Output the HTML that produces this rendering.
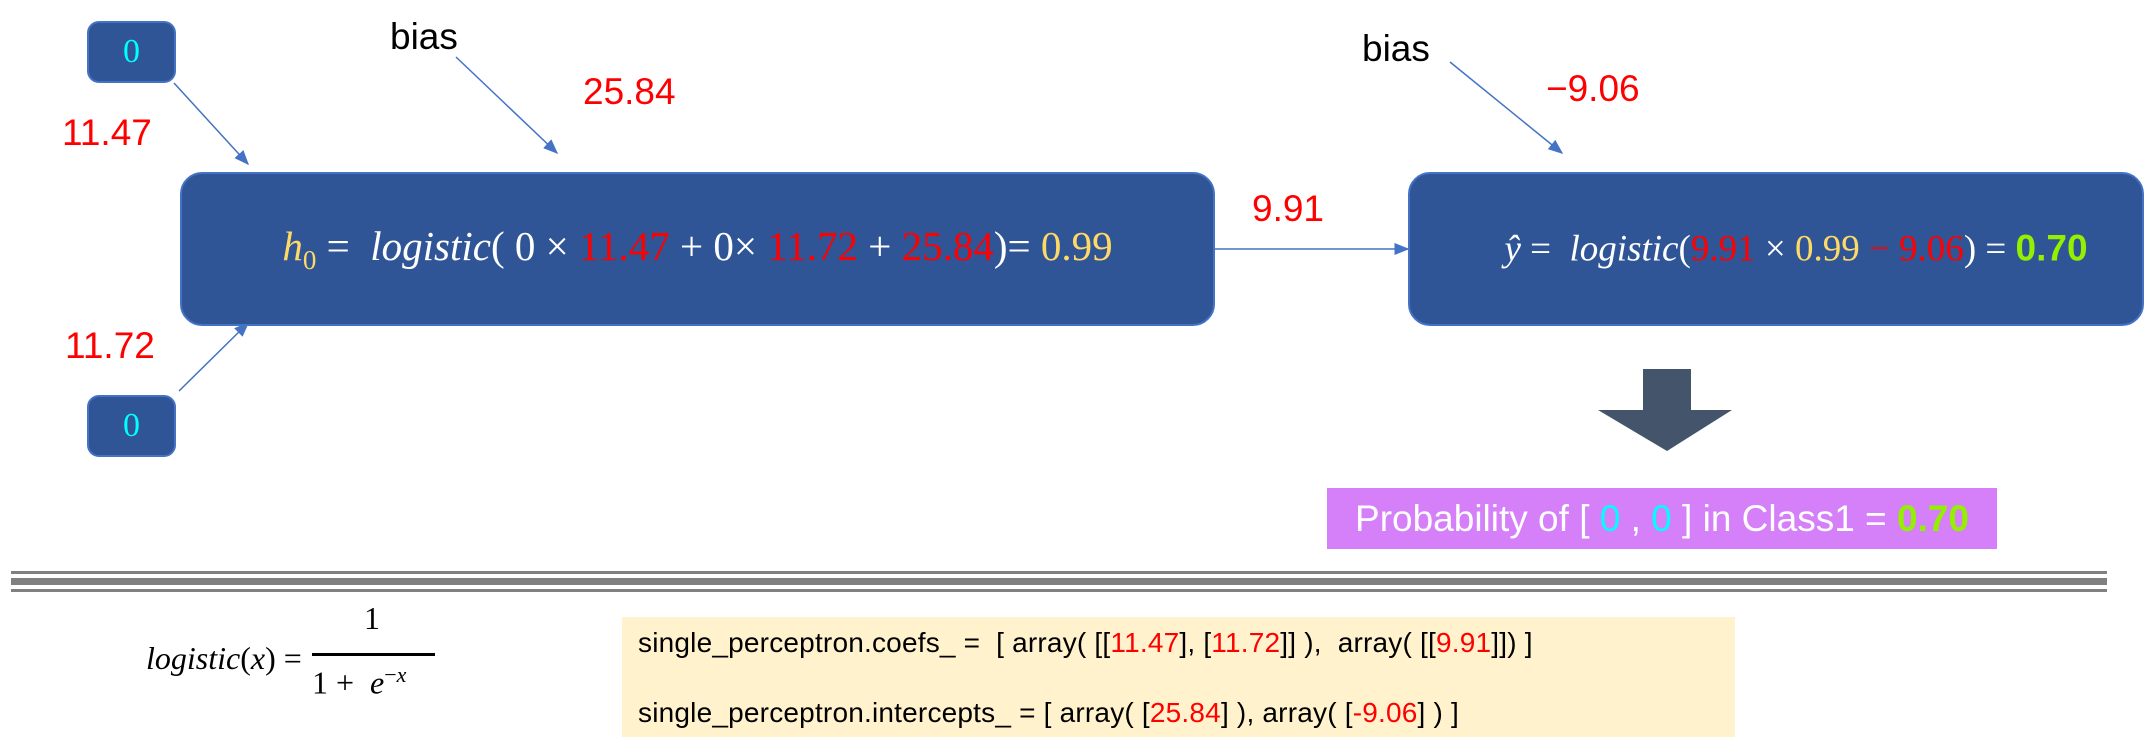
<!DOCTYPE html>
<html><head><meta charset="utf-8">
<style>
body{margin:0;width:2145px;height:745px;background:#fff;position:relative;overflow:hidden;font-family:"Liberation Sans",sans-serif}
.abs{position:absolute}
.node{position:absolute;background:#2f5597;border:2px solid #4472c4;box-sizing:border-box;border-radius:12px;color:#fff}
.in{width:89px;height:62px;display:flex;align-items:center;justify-content:center;color:#00ffff;font-family:"Liberation Serif",serif;font-size:34px}
.red{color:#ff0000}.yel{color:#ffd966}.grn{color:#92f000;font-weight:bold}.cy{color:#00ffff}
.lbl{position:absolute;font-size:37px;line-height:37px;white-space:nowrap}
.math{font-family:"Liberation Serif",serif;font-size:41px;white-space:nowrap;position:absolute;left:0;right:0;text-align:center;top:50%;transform:translateY(-50%)}
.code{font-size:28px;position:absolute;left:16px;white-space:nowrap;letter-spacing:0.2px}
</style></head><body>
<svg class="abs" style="left:0;top:0" width="2145" height="745">
<defs><marker id="ah" markerWidth="10" markerHeight="8" refX="9" refY="4" orient="auto"><path d="M0,0L10,4L0,8z" fill="#4472c4"/></marker></defs>
<line x1="174" y1="83" x2="248" y2="164" stroke="#4472c4" stroke-width="1.5" marker-end="url(#ah)"/>
<line x1="179" y1="391" x2="248" y2="323" stroke="#4472c4" stroke-width="1.5" marker-end="url(#ah)"/>
<line x1="456" y1="57" x2="557" y2="153" stroke="#4472c4" stroke-width="1.5" marker-end="url(#ah)"/>
<line x1="1215" y1="249" x2="1408" y2="249" stroke="#4472c4" stroke-width="1.5" marker-end="url(#ah)"/>
<line x1="1450" y1="62" x2="1562" y2="153" stroke="#4472c4" stroke-width="1.5" marker-end="url(#ah)"/>
<path d="M1643,369H1691V410H1732L1667,451L1598,410H1643Z" fill="#44546a"/>
<rect x="11" y="571" width="2096" height="3" fill="#808080"/>
<rect x="11" y="578" width="2096" height="7" fill="#808080"/>
<rect x="11" y="589" width="2096" height="3" fill="#808080"/>
</svg>

<div class="node in" style="left:87px;top:21px">0</div>
<div class="node in" style="left:87px;top:395px">0</div>

<div class="lbl" style="left:390px;top:18px">bias</div>
<div class="lbl red" style="left:583px;top:73px">25.84</div>
<div class="lbl red" style="left:62px;top:114px">11.47</div>
<div class="lbl red" style="left:65px;top:327px">11.72</div>
<div class="lbl red" style="left:1252px;top:190px">9.91</div>
<div class="lbl" style="left:1362px;top:30px">bias</div>
<div class="lbl red" style="left:1546px;top:70px">−9.06</div>

<div class="node" style="left:180px;top:172px;width:1035px;height:154px;border-radius:22px">
<div class="math" style="padding-left:0px"><i class="yel">h</i><sub class="yel" style="font-size:27px">0</sub> = &nbsp;<i>logistic</i>( 0 × <span class="red">11.47</span> + 0× <span class="red">11.72</span> + <span class="red">25.84</span>)= <span class="yel">0.99</span></div>
</div>
<div class="node" style="left:1408px;top:172px;width:736px;height:154px;border-radius:22px">
<div class="math" style="font-size:37px;padding-left:40px"><i>ŷ</i> = &nbsp;<i>logistic</i>(<span class="red">9.91</span> × <span class="yel">0.99</span> <span class="red">− 9.06</span>) = <span class="grn" style="font-family:'Liberation Sans',sans-serif">0.70</span></div>
</div>

<div class="abs" style="left:1327px;top:488px;width:670px;height:61px;background:#d580f9;color:#fff;font-size:37px;display:flex;align-items:center;justify-content:center;white-space:nowrap">Probability of [ <span class="cy">&nbsp;0&nbsp;</span> , <span class="cy">&nbsp;0&nbsp;</span> ] in Class1 = <span class="grn">&nbsp;0.70</span></div>

<div class="abs" style="left:146px;top:630px;font-family:'Liberation Serif',serif;font-size:32px;white-space:nowrap">
<span style="position:absolute;left:0;top:10px"><i>logistic</i>(<i>x</i>) =</span>
<span style="position:absolute;left:218px;top:-30px">1</span>
<span style="position:absolute;left:166px;top:23px;width:123px;height:3px;background:#000"></span>
<span style="position:absolute;left:166px;top:32px">1 + &nbsp;<i>e</i><sup style="font-size:22px">−<i>x</i></sup></span>
</div>

<div class="abs" style="left:622px;top:617px;width:1113px;height:120px;background:#fff2cc">
<div class="code" style="top:10px">single_perceptron.coefs_ = &nbsp;[ array( [[<span class="red">11.47</span>], [<span class="red">11.72</span>]] ), &nbsp;array( [[<span class="red">9.91</span>]]) ]</div>
<div class="code" style="top:80px">single_perceptron.intercepts_ = [ array( [<span class="red">25.84</span>] ), array( [<span class="red">-9.06</span>] ) ]</div>
</div>
</body></html>
